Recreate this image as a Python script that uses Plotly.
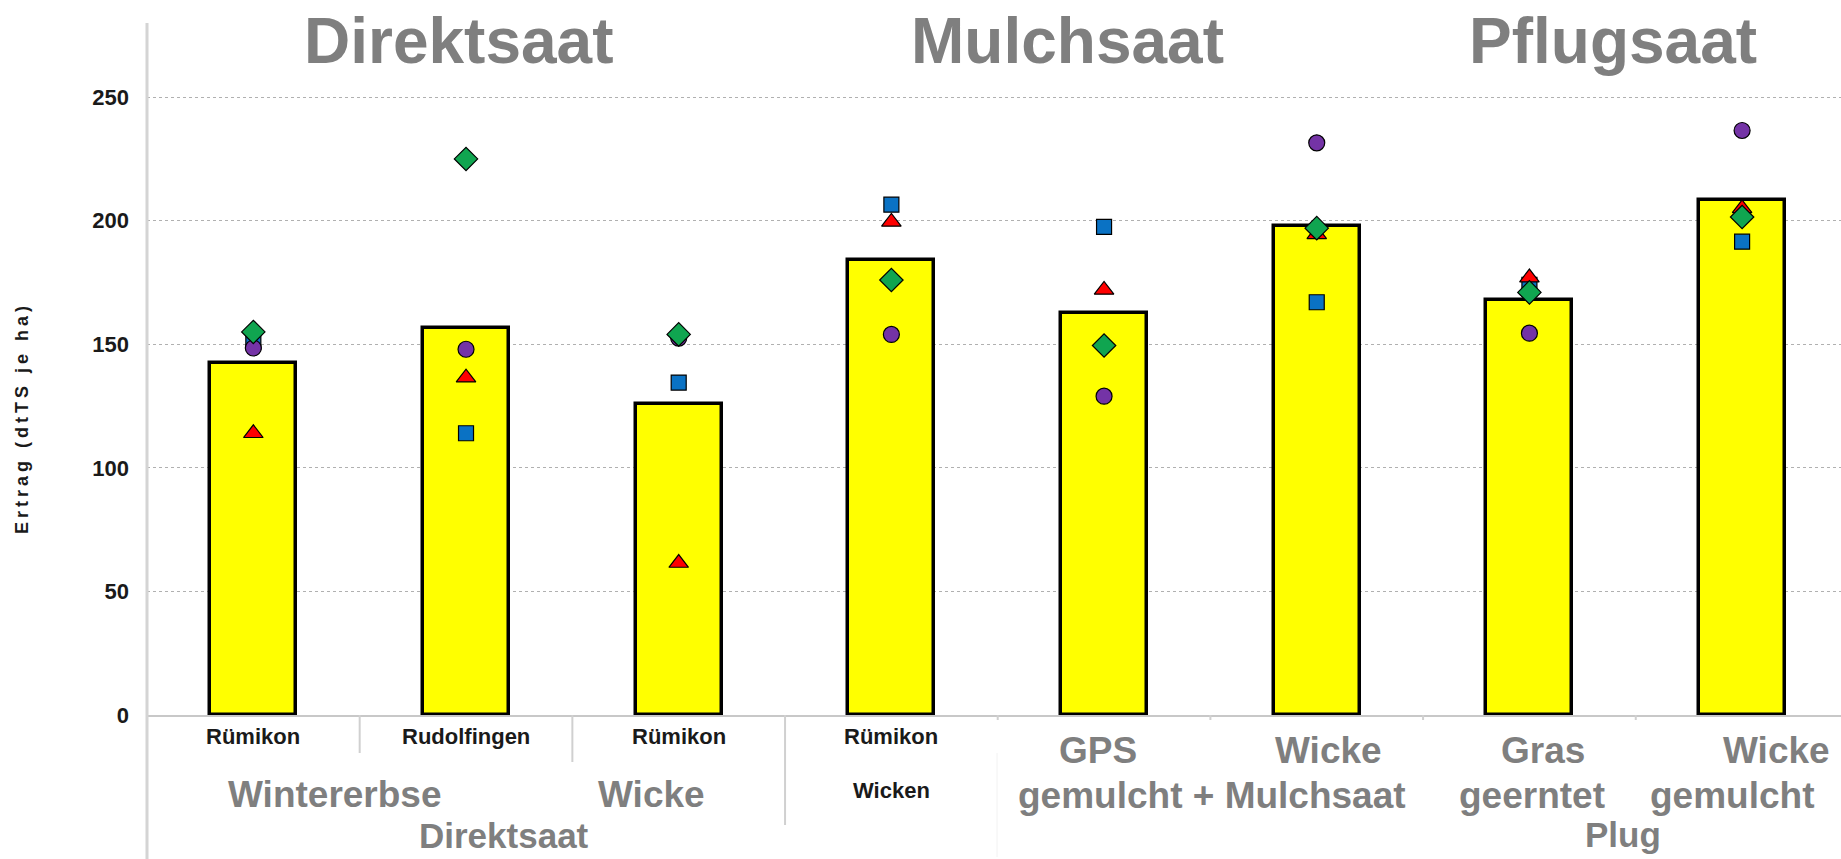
import plotly.graph_objects as go

# ---------------- data ----------------
categories = ["Rümikon", "Rudolfingen", "Rümikon", "Rümikon", "GPS gemulcht", "Wicke Mulchsaat", "Gras geerntet", "Wicke gemulcht"]
x_pos = [0, 1, 2, 3, 4, 5, 6, 7]
bar_mean = [142.5, 156.5, 126.0, 184.0, 162.5, 198.0, 168.0, 208.5]
purple_circle = [148.5, 148.0, 152.5, 154.0, 129.0, 231.5, 154.5, 236.5]
blue_square = [151.0, 114.0, 134.5, 206.5, 197.5, 167.0, 174.0, 191.5]
red_triangle = [114.0, 136.5, 61.5, 199.5, 172.0, 194.5, 177.0, 205.0]
green_diamond = [155.0, 225.0, 154.0, 176.0, 149.5, 197.0, 171.0, 201.5]
y_ticks = [0, 50, 100, 150, 200, 250]

small_labels = ["Rümikon", "Rudolfingen", "Rümikon", "Rümikon"]
top_titles = ["Direktsaat", "Mulchsaat", "Pflugsaat"]
y_title = "Ertrag (dtTS je ha)"

# ---------------- layout geometry ----------------
W, H = 1841, 859
L, R, T, B = 147, 0, 23, 144
PW, PH = W - L - R, H - T - B


def px(xp):
    return (xp - L) / PW


def py(yp):
    return (H - B - yp) / PH


FONT = "Liberation Sans, Arial, sans-serif"
GREY = "#7f7f7f"

fig = go.Figure()
fig.add_trace(go.Bar(
    x=x_pos, y=bar_mean, width=0.405,
    marker=dict(color="#ffff00", line=dict(color="#000000", width=3.5)),
    name="Mittel", hoverinfo="y",
))

marker_specs = [
    (blue_square, "square", "#0a72c4", 15),
    (purple_circle, "circle", "#7433a6", 16),
    (red_triangle, "triangle-up", "#ff0000", 17),
    (green_diamond, "diamond", "#10a550", 18),
]
for vals, sym, col, sz in marker_specs:
    fig.add_trace(go.Scatter(
        x=x_pos, y=vals, mode="markers",
        marker=dict(symbol=sym, color=col, size=sz, line=dict(color="#000000", width=1.2)),
        hoverinfo="y", showlegend=False,
    ))

annotations = []
# top group titles
for txt, xc in zip(top_titles, [459, 1067, 1613]):
    annotations.append(dict(text=f"<b>{txt}</b>", x=px(xc), y=py(41), xref="paper", yref="paper",
                            showarrow=False, xanchor="center", yanchor="middle",
                            font=dict(family=FONT, size=64, color=GREY)))

# small black location labels
for i, txt in enumerate(small_labels):
    annotations.append(dict(text=f"<b>{txt}</b>", x=x_pos[i], y=py(736), xref="x", yref="paper",
                            showarrow=False, xanchor="center", yanchor="middle",
                            font=dict(family=FONT, size=22, color="#1a1a1a")))
annotations.append(dict(text="<b>Wicken</b>", x=x_pos[3], y=py(790), xref="x", yref="paper",
                        showarrow=False, xanchor="center", yanchor="middle",
                        font=dict(family=FONT, size=22, color="#1a1a1a")))

# large grey bottom labels (text, x pixel center, y pixel center, size)
big_labels = [
    ("Wintererbse", 335, 794, 37),
    ("Wicke", 651, 794, 37),
    ("Direktsaat", 504, 835, 35),
    ("GPS", 1098, 750, 37),
    ("Wicke", 1328, 750, 37),
    ("gemulcht + Mulchsaat", 1212, 796, 37),
    ("Gras", 1543, 750, 37),
    ("geerntet", 1532, 796, 37),
    ("Wicke", 1776, 750, 37),
    ("gemulcht", 1732, 796, 37),
    ("Plug", 1623, 834, 35),
]
for txt, xc, yc, fs in big_labels:
    annotations.append(dict(text=f"<b>{txt}</b>", x=px(xc), y=py(yc), xref="paper", yref="paper",
                            showarrow=False, xanchor="center", yanchor="middle",
                            font=dict(family=FONT, size=fs, color=GREY)))

# y axis title
annotations.append(dict(text=f'<b><span style="letter-spacing:4px">{y_title}</span></b>',
                        x=px(22), y=py(418), xref="paper", yref="paper", textangle=-90,
                        showarrow=False, xanchor="center", yanchor="middle",
                        font=dict(family=FONT, size=18, color="#1a1a1a")))

shapes = []
# left vertical axis line extending below the plot
shapes.append(dict(type="line", xref="paper", yref="paper", x0=0, x1=0, y0=py(H), y1=1,
                   line=dict(color="#d4d4d4", width=3)))
# category separators
for xs, yend in [(0.5, 753), (1.5, 762), (2.5, 825)]:
    shapes.append(dict(type="line", xref="x", yref="paper", x0=xs, x1=xs, y0=0, y1=py(yend),
                       line=dict(color="#d0d0d0", width=2)))
for xs in [3.5, 4.5, 5.5, 6.5]:
    shapes.append(dict(type="line", xref="x", yref="paper", x0=xs, x1=xs, y0=0, y1=py(720),
                       line=dict(color="#d0d0d0", width=2)))
shapes.append(dict(type="line", xref="paper", yref="paper", x0=px(997), x1=px(997), y0=py(753), y1=py(857),
                   line=dict(color="#f2f2f2", width=1)))

fig.update_layout(
    width=W, height=H,
    margin=dict(l=L, r=R, t=T, b=B, pad=0, autoexpand=False),
    paper_bgcolor="white", plot_bgcolor="white",
    showlegend=False,
    annotations=annotations, shapes=shapes,
    xaxis=dict(range=[-0.5, 7.465], showgrid=False, zeroline=False, showticklabels=False,
               showline=True, linecolor="#c8c8c8", linewidth=2, ticks="", automargin=False),
    yaxis=dict(range=[0, 280], tickvals=y_ticks, ticktext=[f"<b>{v}</b>" for v in y_ticks],
               showgrid=True, gridcolor="#b0b0b0", griddash="dot", gridwidth=1,
               zeroline=False, showline=False, ticks="", ticklabelstandoff=17, automargin=False,
               tickfont=dict(family=FONT, size=22, color="#1a1a1a")),
    bargap=0,
)

fig.write_html("out.html", config={"displayModeBar": False},
               post_script="document.body.style.margin='0px';document.body.style.overflow='hidden';")
